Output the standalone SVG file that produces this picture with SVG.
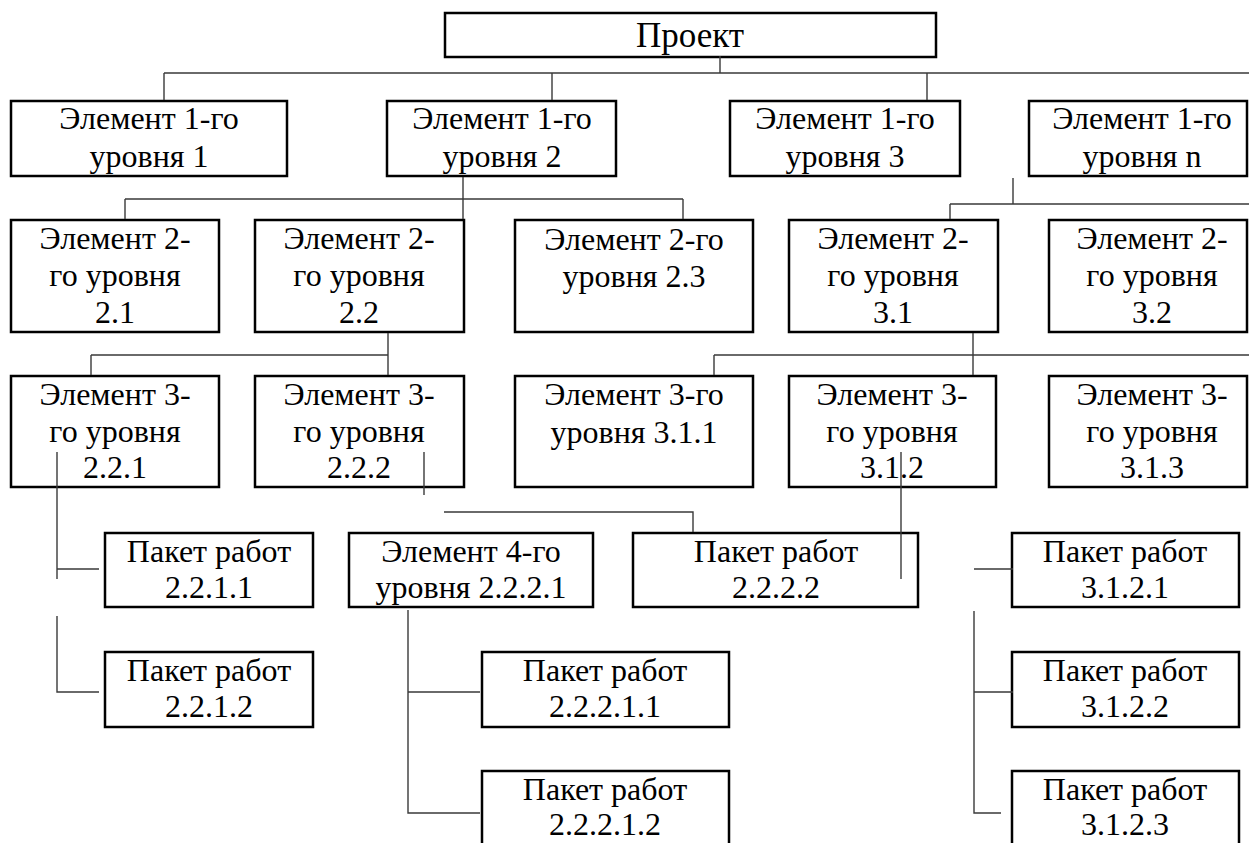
<svg xmlns="http://www.w3.org/2000/svg" width="1249" height="843" viewBox="0 0 1249 843">
<defs>
<style>
text{font-family:'Times New Roman','Liberation Serif',Tinos,'DejaVu Serif',serif;text-anchor:middle;fill:#000;font-size:32px}
.p{font-size:35px}
.b{fill:#fff;stroke:#000;stroke-width:2.5}
.c{fill:none;stroke:#3a3a3a;stroke-width:1.4}
</style>
</defs>
<rect width="1249" height="843" fill="#fff"/>
<g id="proj"><rect class="b" x="445" y="13" width="491" height="44"/><text class="p" x="690" y="47">Проект</text></g>
<g id="l1_1"><rect class="b" x="11" y="101" width="276" height="75"/><text x="149" y="129">Элемент 1-го</text><text x="149" y="167">уровня 1</text></g>
<g id="l1_2"><rect class="b" x="387" y="101" width="229" height="75"/><text x="502" y="129">Элемент 1-го</text><text x="502" y="167">уровня 2</text></g>
<g id="l1_3"><rect class="b" x="730" y="101" width="230" height="75"/><text x="845" y="129">Элемент 1-го</text><text x="845" y="167">уровня 3</text></g>
<g id="l1_n"><rect class="b" x="1029" y="101" width="218" height="75"/><text x="1142" y="129">Элемент 1-го</text><text x="1142" y="167">уровня n</text></g>
<g id="l2_21"><rect class="b" x="11" y="220" width="208" height="112"/><text x="115" y="249">Элемент 2-</text><text x="115" y="286">го уровня</text><text x="115" y="323">2.1</text></g>
<g id="l2_22"><rect class="b" x="255" y="220" width="209" height="112"/><text x="359" y="249">Элемент 2-</text><text x="359" y="286">го уровня</text><text x="359" y="323">2.2</text></g>
<g id="l2_23"><rect class="b" x="515" y="220" width="238" height="112"/><text x="634" y="250">Элемент 2-го</text><text x="634" y="287">уровня 2.3</text></g>
<g id="l2_31"><rect class="b" x="789" y="220" width="209" height="112"/><text x="893" y="249">Элемент 2-</text><text x="893" y="286">го уровня</text><text x="893" y="323">3.1</text></g>
<g id="l2_32"><rect class="b" x="1049" y="220" width="198" height="112"/><text x="1152" y="249">Элемент 2-</text><text x="1152" y="286">го уровня</text><text x="1152" y="323">3.2</text></g>
<g id="l3_221"><rect class="b" x="11" y="376" width="208" height="111"/><text x="115" y="405">Элемент 3-</text><text x="115" y="442">го уровня</text><text x="115" y="478">2.2.1</text></g>
<g id="l3_222"><rect class="b" x="255" y="376" width="209" height="111"/><text x="359" y="405">Элемент 3-</text><text x="359" y="442">го уровня</text><text x="359" y="478">2.2.2</text></g>
<g id="l3_311"><rect class="b" x="515" y="376" width="238" height="111"/><text x="634" y="405">Элемент 3-го</text><text x="634" y="443">уровня 3.1.1</text></g>
<g id="l3_312"><rect class="b" x="789" y="376" width="207" height="111"/><text x="892" y="405">Элемент 3-</text><text x="892" y="442">го уровня</text><text x="892" y="478">3.1.2</text></g>
<g id="l3_313"><rect class="b" x="1049" y="376" width="198" height="111"/><text x="1152" y="405">Элемент 3-</text><text x="1152" y="442">го уровня</text><text x="1152" y="478">3.1.3</text></g>
<g id="p2211"><rect class="b" x="105" y="533" width="208" height="74"/><text x="209" y="562">Пакет работ</text><text x="209" y="598">2.2.1.1</text></g>
<g id="p2212"><rect class="b" x="105" y="652" width="208" height="75"/><text x="209" y="681">Пакет работ</text><text x="209" y="717">2.2.1.2</text></g>
<g id="e2221"><rect class="b" x="349" y="533" width="244" height="74"/><text x="471" y="562">Элемент 4-го</text><text x="471" y="598">уровня 2.2.2.1</text></g>
<g id="p2222"><rect class="b" x="633" y="533" width="285" height="74"/><text x="776" y="562">Пакет работ</text><text x="776" y="598">2.2.2.2</text></g>
<g id="p3121"><rect class="b" x="1012" y="533" width="227" height="74"/><text x="1125" y="562">Пакет работ</text><text x="1125" y="598">3.1.2.1</text></g>
<g id="p3122"><rect class="b" x="1012" y="652" width="227" height="75"/><text x="1125" y="681">Пакет работ</text><text x="1125" y="717">3.1.2.2</text></g>
<g id="p3123"><rect class="b" x="1012" y="771" width="227" height="80"/><text x="1125" y="800">Пакет работ</text><text x="1125" y="835">3.1.2.3</text></g>
<g id="p22211"><rect class="b" x="482" y="652" width="247" height="75"/><text x="605" y="681">Пакет работ</text><text x="605" y="717">2.2.2.1.1</text></g>
<g id="p22212"><rect class="b" x="482" y="771" width="247" height="80"/><text x="605" y="800">Пакет работ</text><text x="605" y="835">2.2.2.1.2</text></g>
<g id="connectors" class="c">
<path d="M720 56V73M164 73H1249M164 73V100M552 73V100M927 73V100"/>
<path d="M463 177V219M125 199H683M125 199V219M683 199V219"/>
<path d="M1013 178V204M950 204H1249M950 204V219"/>
<path d="M388 333V375M91 355H388M91 355V375"/>
<path d="M714 355H1249M714 355V375M973 333V375"/>
<path d="M57 452V579M57 569H99M57 616V692H99"/>
<path d="M424 452V495"/>
<path d="M444 512H693V532"/>
<path d="M901 452V579"/>
<path d="M408 610V813H480M408 692H480"/>
<path d="M974 569H1013M974 611V813H1001M974 692H1013"/>
</g>
</svg>
